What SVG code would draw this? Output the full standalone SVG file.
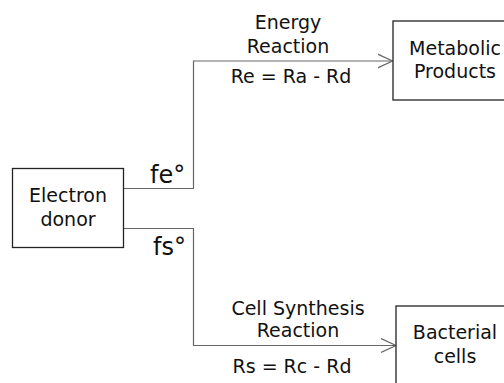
<svg xmlns="http://www.w3.org/2000/svg" width="504" height="383" viewBox="0 0 504 383">
<style>
.box{fill:#fff;stroke:#222;stroke-width:1.3}
.t{font-family:"DejaVu Sans",sans-serif;font-size:19px;fill:#111;text-anchor:middle}
.big{font-family:"DejaVu Sans",sans-serif;font-size:24px;fill:#111}
.c{fill:none;stroke:#666;stroke-width:1.2}
</style>
<defs>
<marker id="arr" markerWidth="18" markerHeight="18" refX="15" refY="8" orient="auto" markerUnits="userSpaceOnUse">
<path d="M0,1 L15,8 L0,15" fill="none" stroke="#666" stroke-width="1.2"/>
</marker>
</defs>
<rect width="504" height="383" fill="#fff"/>
<g id="connectors">
<path class="c" d="M124,188.5 H193.5 V61 H392.5" marker-end="url(#arr)"/>
<path class="c" d="M124,228.5 H193.5 V345.5 H396" marker-end="url(#arr)"/>
</g>
<g id="donor">
<rect class="box" x="12.5" y="168.5" width="111" height="79"/>
<text class="t" x="68" y="202">Electron</text>
<text class="t" x="68" y="226">donor</text>
</g>
<g id="metabolic">
<rect class="box" x="393" y="21" width="130" height="79"/>
<text class="t" x="455" y="55">Metabolic</text>
<text class="t" x="455" y="78">Products</text>
</g>
<g id="bacterial">
<rect class="box" x="396" y="306" width="130" height="90"/>
<text class="t" x="455" y="339">Bacterial</text>
<text class="t" x="455" y="363">cells</text>
</g>
<g id="labels">
<text class="t" x="288" y="29">Energy</text>
<text class="t" x="288" y="53">Reaction</text>
<text class="t" x="291" y="83">Re = Ra - Rd</text>
<text class="big" x="150" y="183">fe°</text>
<text class="big" x="153" y="255">fs°</text>
<text class="t" x="298" y="315">Cell Synthesis</text>
<text class="t" x="298" y="337">Reaction</text>
<text class="t" x="292" y="373">Rs = Rc - Rd</text>
</g>
</svg>
